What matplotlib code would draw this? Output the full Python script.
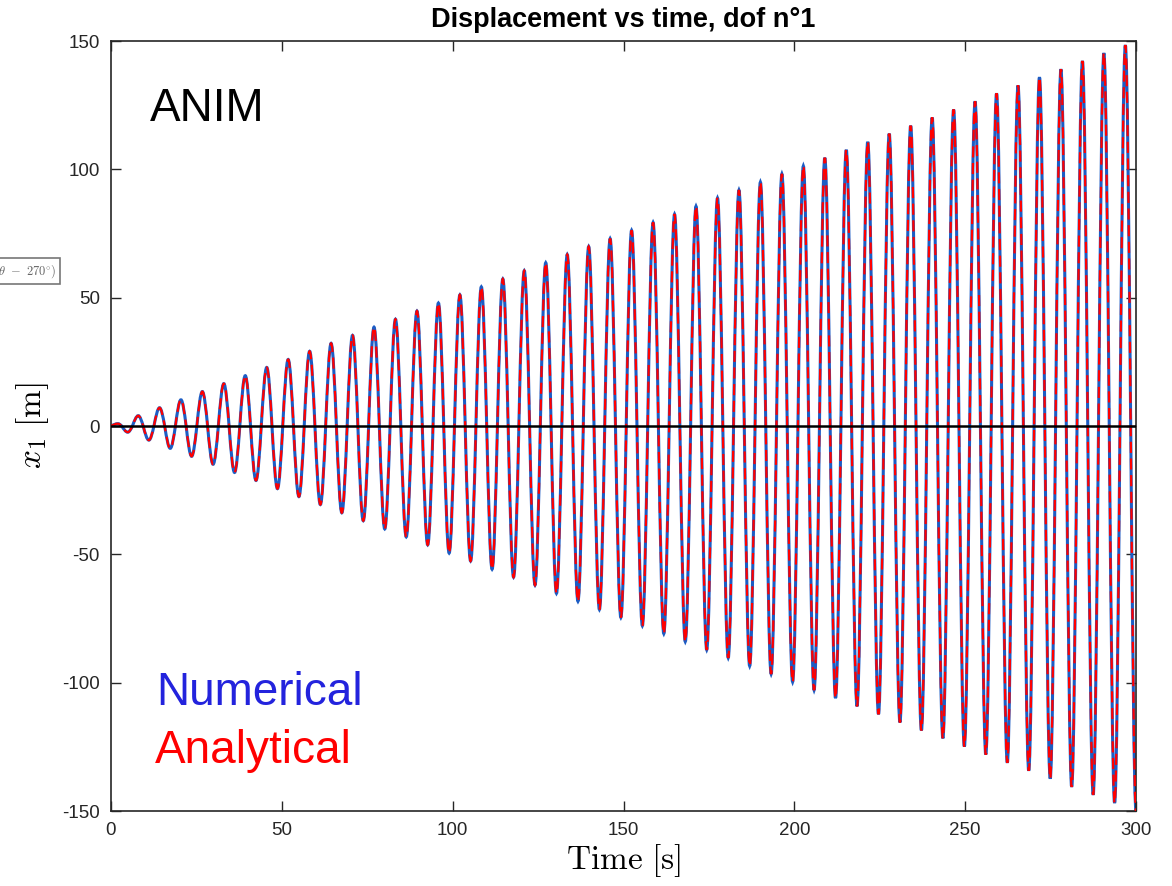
import matplotlib
matplotlib.use("Agg")
import matplotlib.pyplot as plt
from matplotlib.path import Path
from matplotlib.patches import PathPatch
import numpy as np

# extrema of x1(t) (time [s], displacement [m])
t_peaks = [2.03, 4.91, 7.98, 11.09, 14.21, 17.34, 20.47, 23.60, 26.74, 29.88,
           33.02, 36.16, 39.30, 42.44, 45.58, 48.72, 51.86, 55.00, 58.14, 61.28,
           64.42, 67.56, 70.70, 73.84, 76.98, 80.12, 83.26, 86.41, 89.55, 92.69,
           95.83, 98.97, 102.11, 105.25, 108.39, 111.54, 114.68, 117.82, 120.96, 124.10,
           127.24, 130.38, 133.53, 136.67, 139.81, 142.95, 146.09, 149.23, 152.37, 155.52,
           158.66, 161.80, 164.94, 168.08, 171.22, 174.36, 177.51, 180.65, 183.79, 186.93,
           190.07, 193.21, 196.36, 199.50, 202.64, 205.78, 208.92, 212.06, 215.20, 218.35,
           221.49, 224.63, 227.77, 230.91, 234.05, 237.19, 240.34, 243.48, 246.62, 249.76,
           252.90, 256.04, 259.19, 262.33, 265.47, 268.61, 271.75, 274.89, 278.03, 281.18,
           284.32, 287.46, 290.60, 293.74, 296.88]
x_peaks = [0.9, -2.4, 4.0, -5.5, 7.1, -8.7, 10.2, -11.8, 13.4, -14.9,
           16.5, -18.1, 19.6, -21.2, 22.8, -24.4, 25.9, -27.5, 29.1, -30.6,
           32.2, -33.8, 35.3, -36.9, 38.5, -40.1, 41.6, -43.2, 44.8, -46.3,
           47.9, -49.5, 51.1, -52.6, 54.2, -55.8, 57.3, -58.9, 60.5, -62.0,
           63.6, -65.2, 66.8, -68.3, 69.9, -71.5, 73.0, -74.6, 76.2, -77.8,
           79.3, -80.9, 82.5, -84.0, 85.6, -87.2, 88.8, -90.3, 91.9, -93.5,
           95.0, -96.6, 98.2, -99.7, 101.3, -102.9, 104.5, -106.0, 107.6, -109.2,
           110.7, -112.3, 113.9, -115.5, 117.0, -118.6, 120.2, -121.7, 123.3, -124.9,
           126.5, -128.0, 129.6, -131.2, 132.7, -134.3, 135.9, -137.4, 139.0, -140.6,
           142.2, -143.7, 145.3, -146.9, 148.4]
# zero crossings
t_zeros = [0.0, 3.14, 6.28, 9.42, 12.57, 15.71, 18.85, 21.99, 25.13, 28.27,
           31.42, 34.56, 37.70, 40.84, 43.98, 47.12, 50.27, 53.41, 56.55, 59.69,
           62.83, 65.97, 69.12, 72.26, 75.40, 78.54, 81.68, 84.82, 87.96, 91.11,
           94.25, 97.39, 100.53, 103.67, 106.81, 109.96, 113.10, 116.24, 119.38, 122.52,
           125.66, 128.81, 131.95, 135.09, 138.23, 141.37, 144.51, 147.65, 150.80, 153.94,
           157.08, 160.22, 163.36, 166.50, 169.65, 172.79, 175.93, 179.07, 182.21, 185.35,
           188.50, 191.64, 194.78, 197.92, 201.06, 204.20, 207.35, 210.49, 213.63, 216.77,
           219.91, 223.05, 226.19, 229.34, 232.48, 235.62, 238.76, 241.90, 245.04, 248.19,
           251.33, 254.47, 257.61, 260.75, 263.89, 267.04, 270.18, 273.32, 276.46, 279.60,
           282.74, 285.88, 289.03, 292.17, 295.31, 298.45]
t_end = [300.0]
x_end = [-150.0]

# merge into one time series
t = np.concatenate([t_zeros, t_peaks, t_end])
x = np.concatenate([np.zeros(len(t_zeros)), x_peaks, x_end])
order = np.argsort(t)
t, x = t[order], x[order]


def wave_path(t, x):
    # smooth quarter-wave bezier between each zero crossing and extremum
    verts = [(t[0], x[0])]
    codes = [Path.MOVETO]
    for i in range(len(t) - 1):
        t0, x0, t1, x1 = t[i], x[i], t[i + 1], x[i + 1]
        d = t1 - t0
        if x0 == 0:  # rising to a peak
            c1 = (t0 + 0.332 * d, 0.512 * x1)
            c2 = (t0 + 0.649 * d, x1)
        else:  # falling back from a peak
            c1 = (t0 + 0.351 * d, x0)
            c2 = (t0 + 0.668 * d, 0.512 * x0)
        verts += [c1, c2, (t1, x1)]
        codes += [Path.CURVE4] * 3
    return Path(verts, codes)


plt.rcParams["font.family"] = ["Liberation Sans", "DejaVu Sans"]
plt.rcParams["mathtext.fontset"] = "cm"
plt.rcParams["axes.unicode_minus"] = False

fig = plt.figure(figsize=(11.72, 8.86), dpi=100)
ax = fig.add_axes([111/1172, 1-811/886, (1136-111)/1172, (811-41)/886])

path = wave_path(t, x)
ax.add_patch(PathPatch(path, fc="none", ec="#1c5cc4", lw=2.2, zorder=2))
ax.add_patch(PathPatch(path, fc="none", ec="#ff0000", lw=1.6, ls=(0, (5, 2.5)), zorder=3))
ax.axhline(0, color="black", lw=1.8, zorder=4)

ax.set_xlim(0, 300)
ax.set_ylim(-150, 150)
ax.set_xticks(np.arange(0, 301, 50))
ax.set_yticks(np.arange(-150, 151, 50))
ax.tick_params(direction="in", length=7, width=1.0, top=True, right=True,
               labelsize=13.5, colors="#262626", labelcolor="#262626", pad=8)
for s in ax.spines.values():
    s.set_linewidth(1.2)
    s.set_color("#262626")

ax.set_title("Displacement vs time, dof n°1", fontsize=19.5, fontweight="bold", pad=10)
ax.set_xlabel(r"$\mathrm{Time\ [s]}$", fontsize=24, labelpad=2)
ax.set_ylabel(r"$x_1\ \mathrm{[m]}$", fontsize=24, labelpad=8)

fig.text(150/1172, 1-121/886, "ANIM", fontsize=33, color="black")
fig.text(156/1172, 1-705/886, "Numerical", fontsize=33, color="#2323dd")
fig.text(155/1172, 1-763/886, "Analytical", fontsize=33, color="#ff0000")

# stray annotation clipped at the left edge
fig.text(56/1172, 1-271/886, r"$(\theta\ -\ 270^{\circ})$", ha="right", va="center",
         fontsize=9, color="#666666",
         bbox=dict(boxstyle="square,pad=0.3", fc="white", ec="#777777", lw=1.2))

fig.savefig("out.png", dpi=100)
